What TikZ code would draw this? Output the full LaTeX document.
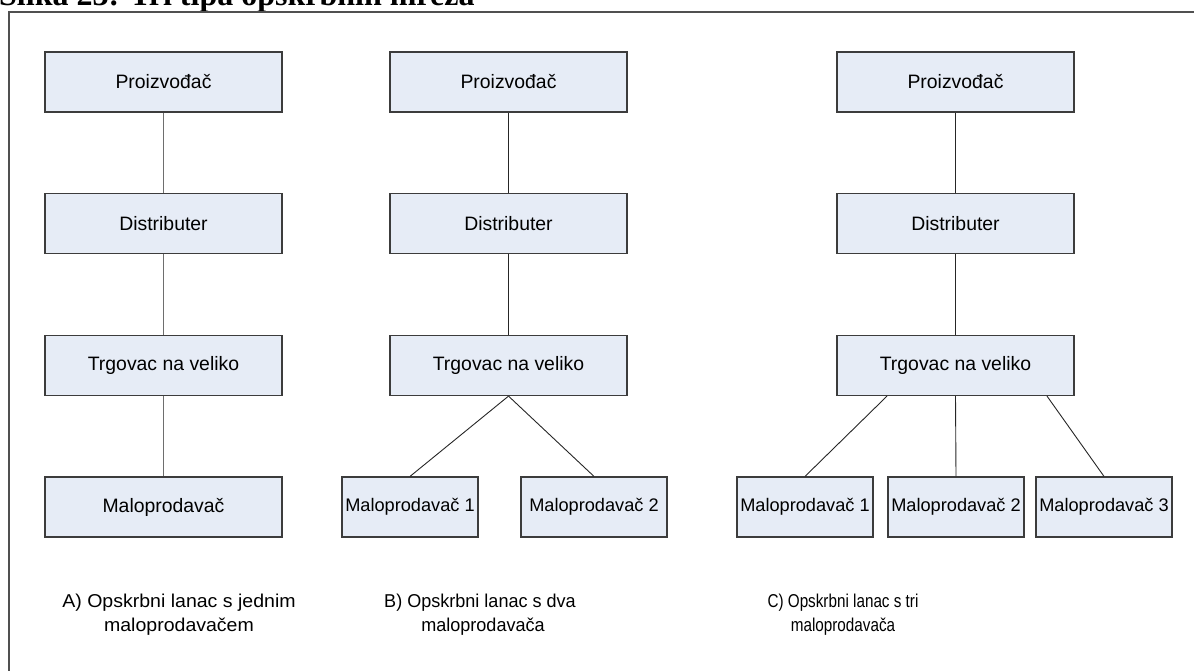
\documentclass[tikz,border=0pt]{standalone}
\usepackage{fontspec}
\setmainfont{Liberation Sans}
\newfontfamily\titlefont{Liberation Serif}
\usetikzlibrary{calc}

\definecolor{boxfill}{RGB}{230,236,246}
\definecolor{boxline}{RGB}{60,60,60}
\definecolor{greyline}{RGB}{110,110,110}
\definecolor{frameline}{RGB}{80,80,80}

\tikzset{
  bigbox/.style={draw=boxline, line width=1.2pt, fill=boxfill, rectangle,
    minimum width=237pt, minimum height=60pt, inner sep=0pt,
    font=\fontsize{19.4}{23}\selectfont},
  smallbox/.style={draw=boxline, line width=1.2pt, fill=boxfill, rectangle,
    minimum width=136pt, minimum height=60pt, inner sep=0pt,
    font=\fontsize{18.2}{22}\selectfont},
  linkA/.style={draw=greyline, line width=1.4pt},
  link/.style={draw=black!85, line width=0.9pt},
  caption/.style={anchor=base, inner sep=0pt, font=\fontsize{18.6}{24}\selectfont},
}

\begin{document}
\begin{tikzpicture}[x=1pt, y=1pt]
\useasboundingbox (0,0) rectangle (1194,-670);

\begin{scope}
\clip (0,0) rectangle (1194,-670);
% heading above the frame
\node[anchor=base west, inner sep=0pt] (title) at (-1,-5)
  {\titlefont\bfseries\fontsize{32}{36}\selectfont Slika 23: Tri tipa opskrbnih mreža};
% frame
\draw[frameline, line width=1.5pt] (9,-700) -- (9,-12) -- (1210,-12);
\end{scope}

% A) one retailer
\node[bigbox] (pA) at (163.5,-82)   {Proizvođač};
\node[bigbox] (dA) at (163.5,-223.5){Distributer};
\node[bigbox] (tA) at (163.5,-365.5){Trgovac na veliko};
\node[bigbox] (mA) at (163.5,-507)  {Maloprodavač};
\draw[linkA] (pA) -- (dA);
\draw[linkA] (dA) -- (tA);
\draw[linkA] (tA) -- (mA);

% B) two retailers
\node[bigbox] (pB) at (508.5,-82)   {Proizvođač};
\node[bigbox] (dB) at (508.5,-223.5){Distributer};
\node[bigbox] (tB) at (508.5,-365.5){Trgovac na veliko};
\node[smallbox] (mB1) at (410,-507) {Maloprodavač 1};
\node[smallbox, minimum width=146pt] (mB2) at (594,-507) {Maloprodavač 2};
\draw[link] (pB) -- (dB);
\draw[link] (dB) -- (tB);
\draw[link] (tB.south) -- (mB1.north);
\draw[link] (tB.south) -- (mB2.north);

% C) three retailers
\node[bigbox] (pC) at (955.5,-82)   {Proizvođač};
\node[bigbox] (dC) at (955.5,-223.5){Distributer};
\node[bigbox] (tC) at (955.5,-365.5){Trgovac na veliko};
\node[smallbox] (mC1) at (805,-507)  {Maloprodavač 1};
\node[smallbox] (mC2) at (956,-507)  {Maloprodavač 2};
\node[smallbox] (mC3) at (1104,-507) {Maloprodavač 3};
\draw[link] (pC) -- (dC);
\draw[link] (dC) -- (tC);
\draw[link] ([xshift=-68.5pt]tC.south) -- (mC1.north);
\draw[link] (tC.south) -- (mC2.north);
\draw[link] ([xshift=91.5pt]tC.south) -- (mC3.north);

% captions
\node[caption] (capA1) at (179,-607) {\scalebox{1.05}[1]{A) Opskrbni lanac s jednim}};
\node[caption] (capA2) at (179,-631) {\scalebox{1.05}[1]{maloprodavačem}};
\node[caption] (capB1) at (480,-607) {\scalebox{0.97}[1]{B) Opskrbni lanac s dva}};
\node[caption] (capB2) at (483,-631) {\scalebox{0.97}[1]{maloprodavača}};
\node[caption] (capC1) at (843,-607) {\scalebox{0.82}[1]{C) Opskrbni lanac s tri}};
\node[caption] (capC2) at (843,-631) {\scalebox{0.82}[1]{maloprodavača}};
\end{tikzpicture}
\end{document}
